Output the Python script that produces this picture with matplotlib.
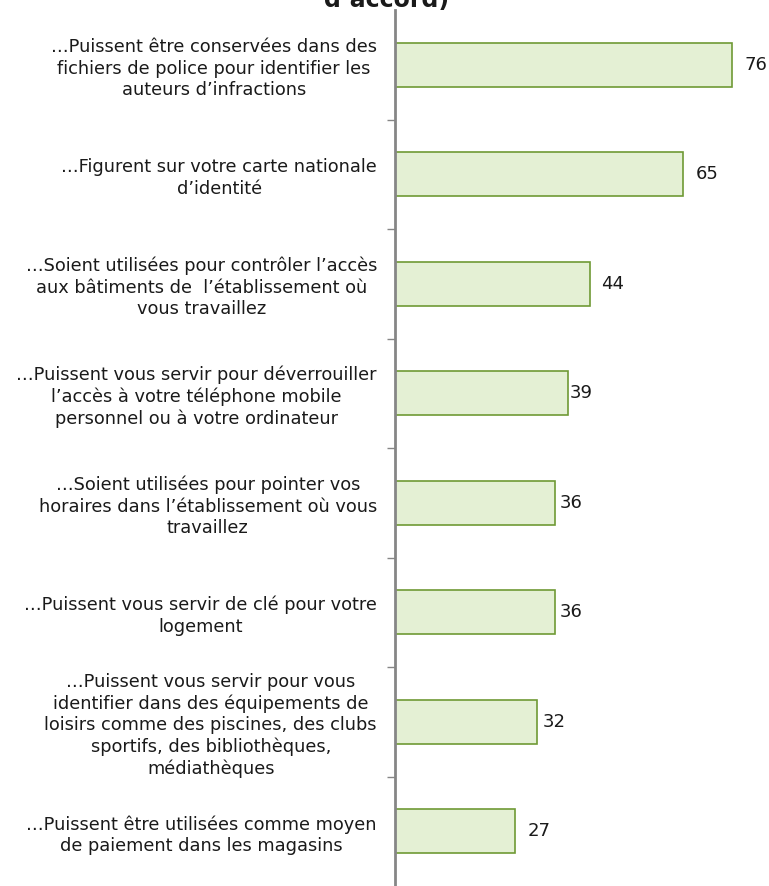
import matplotlib
matplotlib.use("Agg")
from matplotlib import pyplot as plt
from matplotlib.ticker import FixedLocator

plt.rcParams['font.family'] = ['DejaVu Sans']

labels = [
    "…Puissent être conservées dans des\nfichiers de police pour identifier les\nauteurs d’infractions",
    "…Figurent sur votre carte nationale\nd’identité",
    "…Soient utilisées pour contrôler l’accès\naux bâtiments de  l’établissement où\nvous travaillez",
    "…Puissent vous servir pour déverrouiller\nl’accès à votre téléphone mobile\npersonnel ou à votre ordinateur",
    "…Soient utilisées pour pointer vos\nhoraires dans l’établissement où vous\ntravaillez",
    "…Puissent vous servir de clé pour votre\nlogement",
    "…Puissent vous servir pour vous\nidentifier dans des équipements de\nloisirs comme des piscines, des clubs\nsportifs, des bibliothèques,\nmédiathèques",
    "…Puissent être utilisées comme moyen\nde paiement dans les magasins",
]
values = [76, 65, 44, 39, 36, 36, 32, 27]

# gap between bar end and its number, in points
label_pad = [9, 9, 8, 1, 4, 4, 4, 9]

fig = plt.figure(figsize=(7.69, 8.86), dpi=100)
ax = fig.add_axes([395 / 769, 0.0, 1 - 395 / 769, 1 - 10 / 886])

pos = list(range(len(values)))
bars = ax.barh(pos, values, height=0.4, color='#e4f0d4', edgecolor='#6f9a35',
               linewidth=1.2, zorder=2)

for b, v, p in zip(bars, values, label_pad):
    ax.annotate(str(v), (b.get_width(), b.get_y() + b.get_height() / 2),
                xytext=(p, 0), textcoords='offset points',
                ha='left', va='center', fontsize=13, color='#1a1a1a')

ax.set_xlim(0, (769 - 395) / 4.434)
ax.set_ylim(len(values) - 0.5, -0.5)

ax.set_yticks(pos)
ax.set_yticklabels(labels, fontsize=12.8, color='#1a1a1a')
for t in ax.get_yticklabels():
    t.set_multialignment('center')
    t.set_linespacing(1.25)
ax.tick_params(axis='y', which='major', length=0, pad=13)
ax.yaxis.set_minor_locator(FixedLocator([i + 0.5 for i in range(len(values) - 1)]))
ax.tick_params(axis='y', which='minor', length=6, width=1, color='#868686')
ax.set_xticks([])

for s in ['top', 'right', 'bottom']:
    ax.spines[s].set_visible(False)
ax.spines['left'].set_color('#868686')
ax.spines['left'].set_linewidth(2)
ax.spines['left'].set_zorder(3)

fig.text(0.503, 1 - 7 / 886, "d’accord)", ha='center', va='baseline',
         fontsize=17, fontweight='bold', color='#1a1a1a')

fig.savefig("out.png", dpi=100)
